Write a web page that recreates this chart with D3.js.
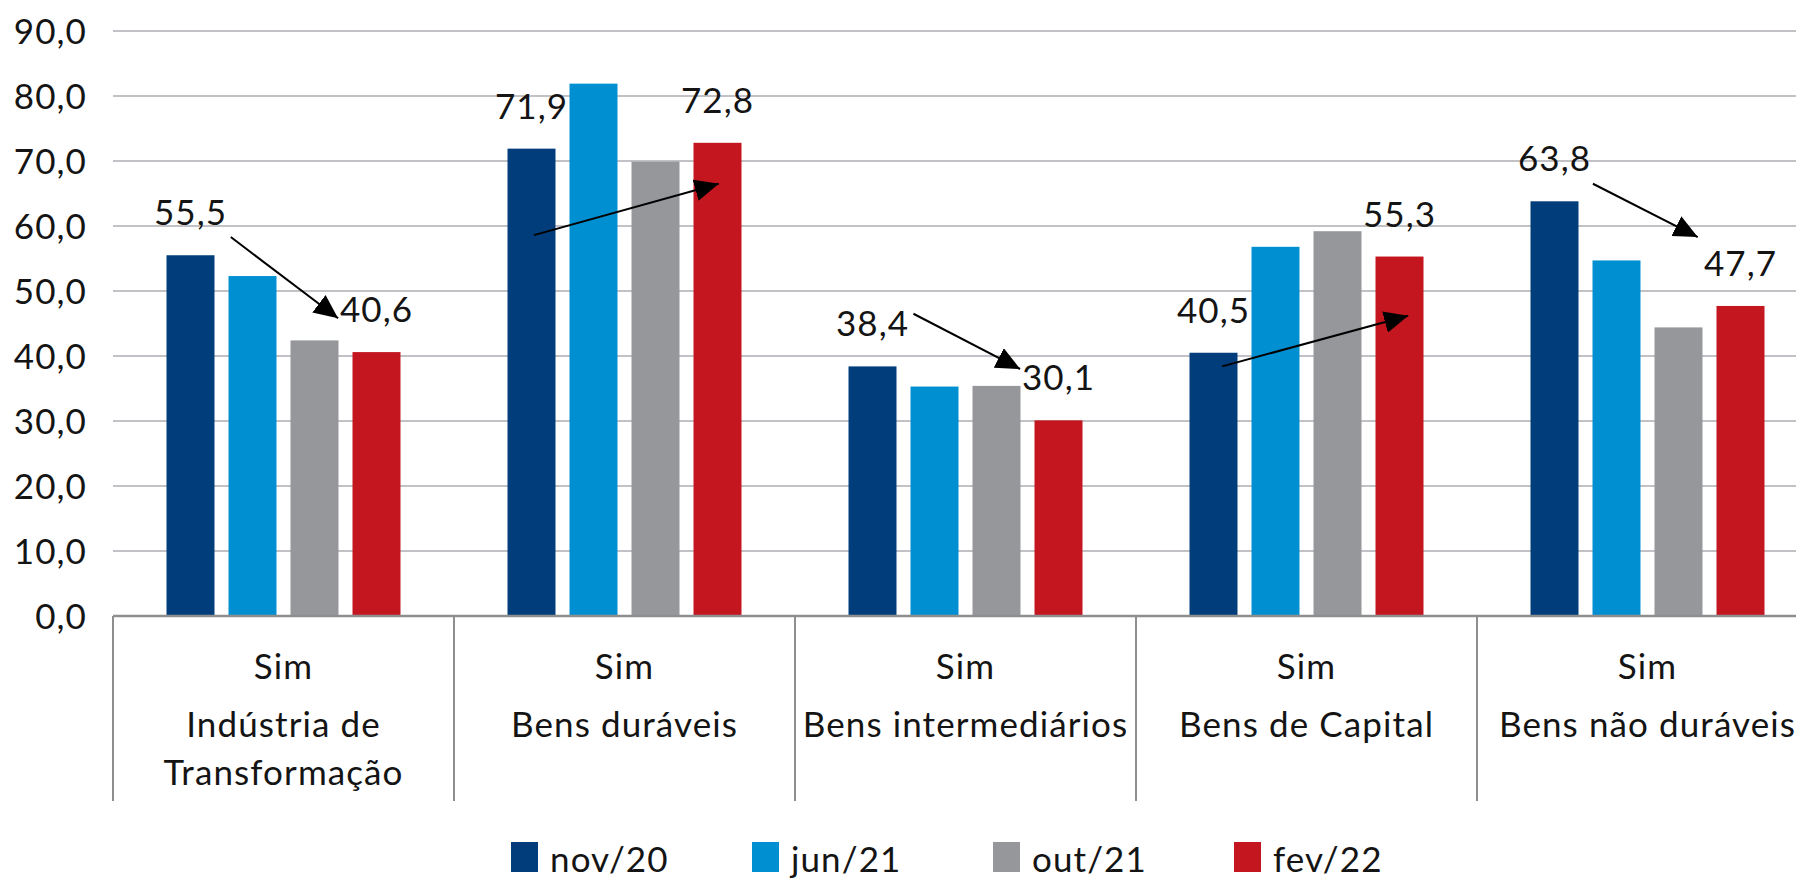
<!DOCTYPE html>
<html>
<head>
<meta charset="utf-8">
<script src="https://cdn.jsdelivr.net/npm/d3@7"></script>
<style>
  body { margin: 0; background: #fff; }
  svg { display: block; font-family: Lato, "Open Sans", sans-serif; }
  text { fill: #141414; font-size: 35px; letter-spacing: 1.1px; }
</style>
</head>
<body>
<div class="chart-holder"></div>
<script>
// data
let categories = ['Indústria de Transformação', 'Bens duráveis', 'Bens intermediários', 'Bens de Capital', 'Bens não duráveis']
let categoryLines = [['Indústria de', 'Transformação'], ['Bens duráveis'], ['Bens intermediários'], ['Bens de Capital'], ['Bens não duráveis']]
let innerLabel = 'Sim'
let series = ['nov/20', 'jun/21', 'out/21', 'fev/22']
let nov20 = [55.5, 71.9, 38.4, 40.5, 63.8]
let jun21 = [52.3, 81.9, 35.3, 56.8, 54.7]
let out21 = [42.4, 69.9, 35.4, 59.2, 44.4]
let fev22 = [40.6, 72.8, 30.1, 55.3, 47.7]
let labeledSeries = ['nov/20', 'fev/22']
let yTicks = [0, 10, 20, 30, 40, 50, 60, 70, 80, 90]
// annotation arrows, in (bar slot, value) units of each category
let arrowFrom = [[0.65, 58.3], [0.04, 58.6], [0.66, 46.5], [0.14, 38.4], [0.62, 66.5]]
let arrowTo = [[2.38, 45.8], [3.02, 66.5], [2.38, 38.0], [3.14, 46.2], [2.31, 58.3]]

let values = [nov20, jun21, out21, fev22]
let colors = ['#023d7b', '#008fd0', '#96979b', '#c3161f']

let width = 1796, height = 878
let plot = { left: 113, right: 1818, top: 31, bottom: 616 }

let locale = d3.formatLocale({ decimal: ',', thousands: '.', grouping: [3], currency: ['R$', ''] })
let fmt = locale.format('.1f')

let color = d3.scaleOrdinal().domain(series).range(colors)

let x0 = d3.scaleBand().domain(categories).range([plot.left, plot.right])
let x1 = d3.scaleBand().domain(series).range([0, x0.bandwidth()])
    .paddingInner(0.226).paddingOuter(0.863)
let y = d3.scaleLinear().domain([0, 90]).range([plot.bottom, plot.top])

let svg = d3.select('.chart-holder')
  .append('svg')
    .attr('width', width)
    .attr('height', height)

svg.append('defs')
  .append('marker')
    .attr('id', 'head')
    .attr('markerUnits', 'userSpaceOnUse')
    .attr('viewBox', '0 0 24 22')
    .attr('refX', 24).attr('refY', 11)
    .attr('markerWidth', 24).attr('markerHeight', 22)
    .attr('orient', 'auto')
  .append('path')
    .attr('d', 'M0,0 L24,11 L0,22 Z')
    .attr('fill', '#000')

// gridlines + y labels
let yAxis = svg.append('g').attr('class', 'y-axis')
yAxis.selectAll('line')
  .data(yTicks.filter(d => d > 0))
  .enter()
  .append('line')
    .attr('x1', plot.left).attr('x2', plot.right)
    .attr('y1', d => y(d)).attr('y2', d => y(d))
    .attr('stroke', '#c2c2c6')
    .attr('stroke-width', 2.2)
yAxis.selectAll('text')
  .data(yTicks)
  .enter()
  .append('text')
    .attr('x', plot.left - 26)
    .attr('y', d => y(d))
    .attr('dy', '0.36em')
    .attr('text-anchor', 'end')
    .text(d => fmt(d))

// bars
let groups = svg.append('g').attr('class', 'bars')
  .selectAll('g')
  .data(categories)
  .enter()
  .append('g')
    .attr('transform', d => 'translate(' + x0(d) + ',0)')

groups.selectAll('rect')
  .data((c, i) => series.map((s, j) => ({ s: s, v: values[j][i] })))
  .enter()
  .append('rect')
    .attr('x', d => x1(d.s))
    .attr('width', x1.bandwidth())
    .attr('y', d => y(d.v))
    .attr('height', d => y(0) - y(d.v))
    .attr('fill', d => color(d.s))

groups.selectAll('text.value')
  .data((c, i) => series.map((s, j) => ({ s: s, v: values[j][i] })).filter(d => labeledSeries.includes(d.s)))
  .enter()
  .append('text').attr('class', 'value')
    .attr('x', d => x1(d.s) + x1.bandwidth() / 2)
    .attr('y', d => y(d.v) - 30)
    .attr('text-anchor', 'middle')
    .text(d => fmt(d.v))

// arrows
function slotX(cat, slot) {
  return x0(cat) + x1(series[0]) + x1.bandwidth() / 2 + slot * x1.step()
}
svg.append('g').attr('class', 'arrows')
  .selectAll('line')
  .data(categories)
  .enter()
  .append('line')
    .attr('x1', (c, i) => slotX(c, arrowFrom[i][0]))
    .attr('y1', (c, i) => y(arrowFrom[i][1]))
    .attr('x2', (c, i) => slotX(c, arrowTo[i][0]))
    .attr('y2', (c, i) => y(arrowTo[i][1]))
    .attr('stroke', '#000')
    .attr('stroke-width', 2)
    .attr('marker-end', 'url(#head)')

// baseline + category axis
let xAxis = svg.append('g').attr('class', 'x-axis')
xAxis.append('line')
  .attr('x1', plot.left).attr('x2', plot.right)
  .attr('y1', y(0)).attr('y2', y(0))
  .attr('stroke', '#8e8e8e')
  .attr('stroke-width', 2.5)
xAxis.selectAll('line.sep')
  .data(categories.concat(['end']))
  .enter()
  .append('line').attr('class', 'sep')
    .attr('x1', d => d === 'end' ? plot.right : x0(d))
    .attr('x2', d => d === 'end' ? plot.right : x0(d))
    .attr('y1', y(0)).attr('y2', 801)
    .attr('stroke', '#8e8e8e')
    .attr('stroke-width', 2)

let catLabels = xAxis.selectAll('g.cat')
  .data(categories)
  .enter()
  .append('g').attr('class', 'cat')
    .attr('transform', d => 'translate(' + (x0(d) + x0.bandwidth() / 2) + ',0)')
catLabels.append('text')
  .attr('y', 679)
  .attr('text-anchor', 'middle')
  .text(innerLabel)
catLabels.selectAll('text.outer')
  .data((c, i) => categoryLines[i])
  .enter()
  .append('text').attr('class', 'outer')
    .attr('y', (d, k) => 737 + k * 48)
    .attr('text-anchor', 'middle')
    .text(d => d)

// legend
let legendX = d3.scalePoint().domain(series).range([511, 1234])
let legend = svg.append('g').attr('class', 'legend')
  .selectAll('g')
  .data(series)
  .enter()
  .append('g')
    .attr('transform', d => 'translate(' + legendX(d) + ',842)')
legend.append('rect')
  .attr('width', 27).attr('height', 30)
  .attr('fill', d => color(d))
legend.append('text')
  .attr('x', 39).attr('y', 30)
  .text(d => d)
</script>
</body>
</html>
